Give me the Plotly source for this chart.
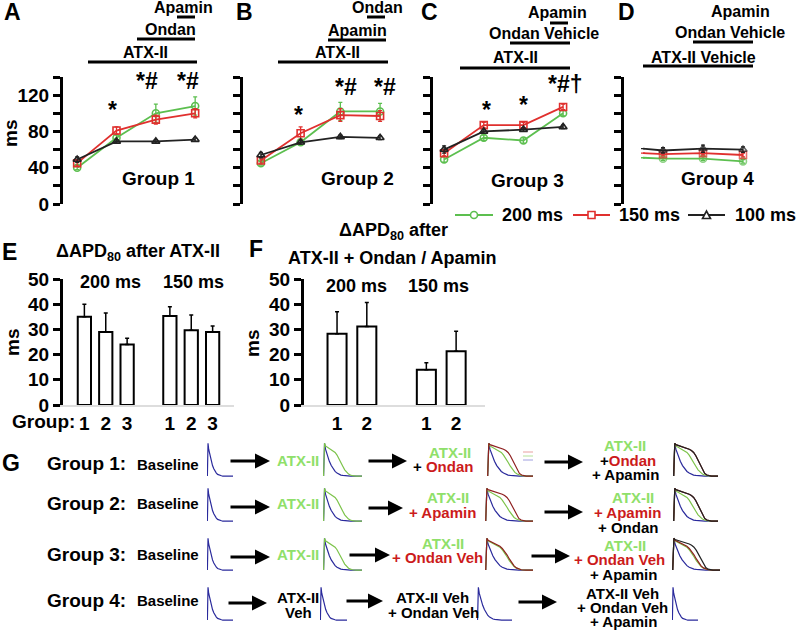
import plotly.graph_objects as go

W, H = 800, 630
FONT = "Liberation Sans"

# APD80 (ms) at the four recording points, panels A-D
time_points = [1, 2, 3, 4]
time_points_d = [1, 1.5, 2.5, 3.5]

g1_200 = [40, 73, 100, 108]
g1_150 = [45, 81, 93, 100]
g1_100 = [49, 69, 69, 71]
g1_200_sd = [2, 3, 10, 10]
g1_150_sd = [3, 4, 5, 5]
g1_100_sd = [3, 2, 2, 2]

g2_200 = [45, 68, 102, 102]
g2_150 = [48, 78, 98, 97]
g2_100 = [54, 68, 74, 73]
g2_200_sd = [2, 3, 10, 9]
g2_150_sd = [3, 7, 7, 6]
g2_100_sd = [3, 2, 2, 2]

g3_200 = [49, 73, 70, 100]
g3_150 = [56, 87, 87, 107]
g3_100 = [60, 80, 82, 85]
g3_200_sd = [3, 3, 3, 3]
g3_150_sd = [3, 3, 3, 3]
g3_100_sd = [4, 2, 2, 2]

g4_200 = [51, 50, 50, 47]
g4_150 = [56, 55, 56, 54]
g4_100 = [61, 59, 61, 60]
g4_200_sd = [0, 2, 2, 2]
g4_150_sd = [0, 2, 2, 2]
g4_100_sd = [0, 3, 4, 3]

# delta APD80 bars, panels E and F
e_pos = [0, 1, 2, 4, 5, 6]
e_labels = ["1", "2", "3", "1", "2", "3"]
e_vals = [35, 29, 24, 35.3, 29.7, 29]
e_err = [5, 7.5, 2.5, 3.7, 6, 2.3]

f_pos = [0, 1, 3, 4]
f_labels = ["1", "2", "1", "2"]
f_vals = [28.3, 31.2, 14, 21.3]
f_err = [8.7, 9.5, 2.8, 8]

# action potential traces in panel G (normalised voltage)
ap_time = [0, 0.5, 1, 2, 3, 4, 5, 6, 7, 8, 9, 10, 11, 12, 13, 14, 15, 17, 20]
ap_baseline = [0, 100, 82, 62, 45, 32, 22, 14, 9, 5, 3, 2, 1, 0, 0, 0, 0, 0, 0]
ap_atx = [0, 100, 92, 88, 85, 82, 78, 72, 64, 54, 42, 30, 19, 11, 6, 3, 1, 0, 0]
ap_atx_veh = [0, 100, 94, 90, 87, 84, 80, 75, 68, 59, 48, 35, 23, 13, 7, 3, 1, 0, 0]
ap_atx_drug = [0, 100, 96, 94, 92, 90, 88, 85, 82, 78, 72, 62, 48, 32, 18, 8, 3, 0, 0]

GREEN, RED, BLACK = "#5cbf4f", "#e0302e", "#222222"
TXT_GREEN, TXT_RED = "#8fe06a", "#cc1b1b"
AP_BLUE, AP_GREEN, AP_RED = "#2a2a9c", "#7cc34a", "#8e1f1f"


def px(x):
    return x / W


def py(y):
    return 1 - y / H


fig = go.Figure()
annotations = []
shapes = []


def set_axes(n, xdom, ydom, xaxis, yaxis):
    s = "" if n == 1 else str(n)
    fig.update_layout({
        f"xaxis{s}": dict(domain=[px(xdom[0]), px(xdom[1])], anchor=f"y{s}", **xaxis),
        f"yaxis{s}": dict(domain=[py(ydom[1]), py(ydom[0])], anchor=f"x{s}", **yaxis),
    })
    return ("x" + s, "y" + s)


def txt(s, x, y, size=15, color="black", xanchor="center", angle=0, bold=True):
    annotations.append(dict(text=s, x=px(x), y=py(y), xref="paper", yref="paper",
                            showarrow=False, xanchor=xanchor, yanchor="middle", textangle=angle,
                            font=dict(family=FONT, size=size, color=color,
                                      weight="bold" if bold else "normal")))


def hline(x0, x1, y, color="black", width=3):
    shapes.append(dict(type="line", xref="paper", yref="paper", x0=px(x0), x1=px(x1),
                       y0=py(y), y1=py(y), line=dict(color=color, width=width)))


def arrow(x0, x1, y):
    annotations.append(dict(text="", x=px(x1), y=py(y), xref="paper", yref="paper",
                            showarrow=True, ax=x0 - x1, ay=0, arrowhead=2, arrowsize=1,
                            arrowwidth=3, arrowcolor="black"))


# ---------- panels A-D ----------
yticks = [0, 20, 40, 60, 80, 100, 120, 140]
line_panels = [
    (1, (63, 205), [0.64, 4.25], time_points,
     [(g1_200, g1_200_sd), (g1_150, g1_150_sd), (g1_100, g1_100_sd)], True),
    (2, (243, 392), [0.55, 4.3], time_points,
     [(g2_200, g2_200_sd), (g2_150, g2_150_sd), (g2_100, g2_100_sd)], False),
    (3, (433, 575), [0.72, 4.3], time_points,
     [(g3_200, g3_200_sd), (g3_150, g3_150_sd), (g3_100, g3_100_sd)], False),
    (4, (624, 760), [0.525, 3.925], time_points_d,
     [(g4_200, g4_200_sd), (g4_150, g4_150_sd), (g4_100, g4_100_sd)], False),
]
styles = [("200 ms", GREEN, "circle-open"), ("150 ms", RED, "square-open"),
          ("100 ms", BLACK, "triangle-up-open")]

for n, xdom, xr, xs, series, labels in line_panels:
    xa, ya = set_axes(
        n, xdom, (77, 204),
        dict(range=xr, visible=False),
        dict(range=[0, 140], showline=True, linewidth=3, linecolor="black", ticks="outside",
             ticklen=7, tickwidth=2.5, tickcolor="black", tickvals=yticks,
             ticktext=[str(v) if v % 40 == 0 else "" for v in yticks],
             showticklabels=labels, showgrid=False, zeroline=False,
             tickfont=dict(family=FONT, size=19, weight="bold", color="black")))
    for (vals, sd), (name, col, sym) in zip(series, styles):
        sizes = [0, 7, 7, 7] if n == 4 else 7
        fig.add_trace(go.Scatter(
            x=xs, y=vals, name=name, mode="lines+markers", xaxis=xa, yaxis=ya,
            line=dict(color=col, width=1.8),
            marker=dict(symbol=sym, size=sizes, color=col, line=dict(width=1.6, color=col)),
            error_y=dict(type="data", array=sd, color=col, thickness=1.3, width=2),
            showlegend=False))

# legend keys (drawn by hand so the row keeps the reference spacing)
for (name, col, sym), (x0, x1, xt) in zip(styles, [(455, 493, 500), (573, 610, 617),
                                                   (688, 725, 733)]):
    hline(x0, x1, 215, color=col, width=2)
    cx = (x0 + x1) / 2
    if sym.startswith("circle"):
        shapes.append(dict(type="circle", xref="paper", yref="paper", x0=px(cx - 3.5),
                           x1=px(cx + 3.5), y0=py(218.5), y1=py(211.5), fillcolor="white",
                           line=dict(color=col, width=1.6)))
    elif sym.startswith("square"):
        shapes.append(dict(type="rect", xref="paper", yref="paper", x0=px(cx - 3.5),
                           x1=px(cx + 3.5), y0=py(218.5), y1=py(211.5), fillcolor="white",
                           line=dict(color=col, width=1.6)))
    else:
        shapes.append(dict(type="path", xref="paper", yref="paper", fillcolor="white",
                           path=f"M {px(cx - 4)} {py(218.5)} L {px(cx + 4)} {py(218.5)} "
                                f"L {px(cx)} {py(211)} Z",
                           line=dict(color=col, width=1.6)))
    txt(name, xt, 215, size=18, xanchor="left")

# treatment bars above A-D
for x0, x1, y in [(88, 197, 62), (137, 195, 39), (177, 195, 17),
                  (278, 388, 62), (328, 386, 40), (367, 385, 17),
                  (460, 570, 68), (510, 570, 43), (550, 568, 23),
                  (643, 753, 66), (693, 753, 42)]:
    hline(x0, x1, y)

for s, x, y in [("Apamin", 183, 8), ("Ondan", 170, 29), ("ATX-II", 145, 52),
                ("Ondan", 377, 8), ("Apamin", 357, 30), ("ATX-II", 337, 52),
                ("Apamin", 557, 12), ("Ondan Vehicle", 544, 33), ("ATX-II", 515, 57),
                ("Apamin", 740, 11), ("Ondan Vehicle", 730, 32), ("ATX-II Vehicle", 703, 57)]:
    txt(s, x, y, size=16)

for s, x, y in [("A", 2, 12), ("B", 234, 12), ("C", 419, 12), ("D", 616, 12),
                ("E", 0, 252), ("F", 247, 249), ("G", 0, 463)]:
    txt(s, x, y, size=23, xanchor="left")

for s, x, y in [("Group 1", 158, 178), ("Group 2", 357, 178),
                ("Group 3", 527, 180), ("Group 4", 717, 178)]:
    txt(s, x, y, size=19)

for s, x, y in [("*", 112, 110), ("*#", 147, 81), ("*#", 188, 81),
                ("*", 298, 115), ("*#", 346, 87), ("*#", 385, 87),
                ("*", 486, 110), ("*", 523, 105), ("*#†", 565, 84)]:
    txt(s, x, y, size=23)

txt("ms", 10, 134, size=19, angle=-90)

# ---------- panels E and F ----------
bar_y = dict(range=[0, 50], showline=True, linewidth=3, linecolor="black", ticks="outside",
             ticklen=7, tickwidth=2.5, tickcolor="black", dtick=10, showgrid=False,
             zeroline=False, tickfont=dict(family=FONT, size=19, weight="bold", color="black"))


def bar_x(rng, pos, labels):
    return dict(range=rng, showline=True, linecolor="#dddddd", linewidth=1.5, showgrid=False,
                zeroline=False, tickvals=pos, ticktext=labels, ticks="",
                tickfont=dict(family=FONT, size=19, weight="bold", color="black"))


for n, xdom, rng, pos, labels, vals, err, w in [
        (5, (63, 234), [-1, 7], e_pos, e_labels, e_vals, e_err, 0.62),
        (6, (304, 485), [-1.11, 4.97], f_pos, f_labels, f_vals, f_err, 0.64)]:
    xa, ya = set_axes(n, xdom, (279, 405), bar_x(rng, pos, labels), bar_y)
    fig.add_trace(go.Bar(
        x=pos, y=vals, width=w, xaxis=xa, yaxis=ya, showlegend=False,
        marker=dict(color="white", line=dict(color="black", width=2)),
        error_y=dict(type="data", array=err, arrayminus=[0] * len(err), symmetric=False,
                     color="black", thickness=1.5, width=2)))

txt("ΔAPD<sub>80</sub> after ATX-II", 138, 252, size=18)
txt("200 ms", 110, 282, size=18)
txt("150 ms", 193, 282, size=18)
txt("Group:", 77, 421, size=19, xanchor="right")
txt("ms", 13, 343, size=19, angle=-90)
txt("ΔAPD<sub>80</sub> after", 393, 231, size=18)
txt("ATX-II + Ondan / Apamin", 392, 258, size=18)
txt("200 ms", 356, 286, size=18)
txt("150 ms", 438, 286, size=18)
txt("ms", 253, 343, size=19, angle=-90)

# ---------- panel G ----------
curve_sets = {
    "base": [(ap_baseline, AP_BLUE)],
    "atx": [(ap_baseline, AP_BLUE), (ap_atx, AP_GREEN)],
    "drug": [(ap_baseline, AP_BLUE), (ap_atx, AP_GREEN), (ap_atx_drug, AP_RED)],
    "drug2": [(ap_baseline, AP_BLUE), (ap_atx, AP_GREEN), (ap_atx_drug, AP_RED),
              (ap_atx_drug, BLACK)],
    "veh": [(ap_baseline, AP_BLUE), (ap_atx, AP_GREEN), (ap_atx_veh, AP_RED)],
    "veh2": [(ap_baseline, AP_BLUE), (ap_atx, AP_GREEN), (ap_atx_veh, AP_RED),
             (ap_atx_drug, BLACK)],
}
g_boxes = [
    ((207, 233), (442, 478), "base"), ((323, 362), (442, 478), "atx"),
    ((487, 533), (442, 478), "drug"), ((673, 718), (442, 478), "drug2"),
    ((207, 233), (487, 523), "base"), ((323, 362), (487, 523), "atx"),
    ((485, 533), (487, 523), "drug"), ((673, 718), (487, 523), "drug2"),
    ((207, 233), (537, 572), "base"), ((323, 362), (537, 572), "atx"),
    ((485, 533), (537, 572), "veh"), ((672, 720), (537, 572), "veh2"),
    ((207, 233), (586, 622), "base"), ((320, 347), (586, 622), "base"),
    ((477, 512), (586, 622), "base"), ((672, 698), (586, 622), "base"),
]
for i, (xdom, ydom, key) in enumerate(g_boxes):
    xa, ya = set_axes(7 + i, xdom, ydom, dict(range=[-0.3, 20], visible=False),
                      dict(range=[-6, 104], visible=False))
    for vals, col in curve_sets[key]:
        fig.add_trace(go.Scatter(x=ap_time, y=vals, mode="lines", xaxis=xa, yaxis=ya,
                                 line=dict(color=col, width=1.2), showlegend=False,
                                 hoverinfo="skip"))

for y, col in [(452, "#e7a0a0"), (456, "#b5e29a"), (460, "#a0a0e0")]:
    hline(523, 533, y, color=col, width=1)

for x0, x1, y in [(229, 270, 461), (367, 407, 461), (543, 583, 462),
                  (229, 270, 507), (367, 403, 508), (543, 583, 512),
                  (229, 270, 557), (348, 390, 555), (530, 570, 556),
                  (227, 267, 603), (345, 383, 601), (517, 557, 602)]:
    arrow(x0, x1, y)

for s, y in [("Group 1:", 463), ("Group 2:", 503), ("Group 3:", 554), ("Group 4:", 600)]:
    txt(s, 86, y, size=19)
for y in [464, 503, 554, 600]:
    txt("Baseline", 168, y, size=15)

red = lambda s: f"<span style='color:{TXT_RED}'>{s}</span>"
g_text = [
    ("ATX-II", 298, 460, TXT_GREEN), ("ATX-II", 450, 452, TXT_GREEN),
    ("+ " + red("Ondan"), 443, 466, "black"),
    ("ATX-II", 625, 445, TXT_GREEN), ("+" + red("Ondan"), 628, 460, "black"),
    ("+ Apamin", 625, 474, "black"),
    ("ATX-II", 298, 503, TXT_GREEN), ("ATX-II", 448, 497, TXT_GREEN),
    ("+ Apamin", 442, 512, TXT_RED),
    ("ATX-II", 633, 497, TXT_GREEN), ("+ Apamin", 627, 512, TXT_RED),
    ("+ Ondan", 628, 527, "black"),
    ("ATX-II", 298, 554, TXT_GREEN), ("ATX-II", 443, 543, TXT_GREEN),
    ("+ Ondan Veh", 437, 557, TXT_RED),
    ("ATX-II", 625, 545, TXT_GREEN), ("+ Ondan Veh", 619, 559, TXT_RED),
    ("+ Apamin", 623, 574, "black"),
    ("ATX-II", 298, 597, "black"), ("Veh", 298, 612, "black"),
    ("ATX-II Veh", 432, 597, "black"), ("+ Ondan Veh", 433, 612, "black"),
    ("ATX-II Veh", 622, 593, "black"), ("+ Ondan Veh", 622, 607, "black"),
    ("+ Apamin", 623, 621, "black"),
]
for s, x, y, col in g_text:
    txt(s, x, y, size=15, color=col)

fig.update_layout(
    width=W, height=H, margin=dict(l=0, r=0, t=0, b=0, autoexpand=False),
    paper_bgcolor="white", plot_bgcolor="white",
    annotations=annotations, shapes=shapes, showlegend=False,
    font=dict(family=FONT),
)

# drop the default page margin so the 800x630 figure sits at the window origin
fig.write_html("out.html", config={"displayModeBar": False},
               post_script="document.body.style.margin='0';")
